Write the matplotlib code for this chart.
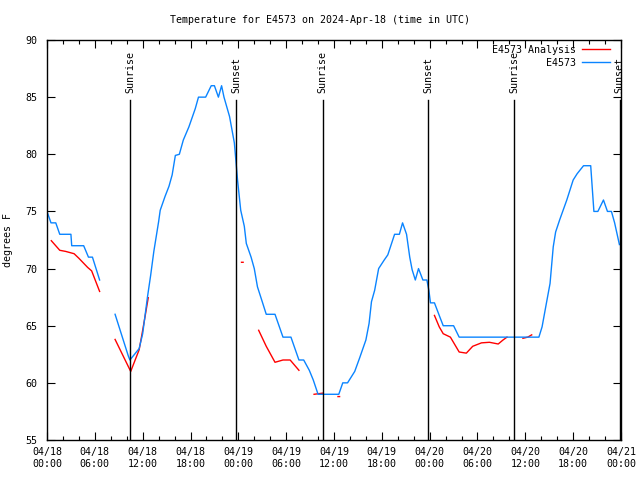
import numpy as np
import matplotlib
matplotlib.use("Agg")
import matplotlib.pyplot as plt

nan = np.nan

# E4573 observations (hours since 2024-04-18 00:00 UTC, degrees F)
blue_h = [0, 0.5, 1.1, 1.6, 3.0, 3.1, 4.6, 5.2, 5.7, 6.6, nan,
          8.54, 10.2, 10.4, 11.56, 12.0, 12.6, 13.0, 13.4, 14.0, 14.2, 14.8, 15.3,
          15.7, 16.1, 16.6, 17.1, 17.8, 18.6, 19.0, 19.9, 20.6, 21.0, 21.5, 21.9,
          22.2, 22.9, 23.5, 23.7, 23.9, 24.3, 24.75, 25.0, 25.6, 26.0, 26.4, 27.0,
          27.5, 28.6, 29.6, 30.6, 31.6, 32.2, 32.9, 33.4, 34.0, 36.6, 37.1, 37.7,
          38.6, 39.2, 40.0, 40.4, 40.7, 41.1, 41.6, 42.3, 42.75, 43.6, 44.2, 44.6,
          45.1, 45.5, 45.8, 46.2, 46.6, 47.15, 47.65, 47.9, 48.1, 48.6, 49.2, 49.7,
          51.0, 51.7, 61.7, 62.1, 62.65, 63.1, 63.5, 63.8, 64.3, 65.2, 66.0, 66.5,
          67.3, 68.2, 68.6, 69.1, 69.8, 70.3, 70.8, 71.2, 71.8]
blue_t = [75, 74, 74, 73, 73, 72, 72, 71, 71, 69, nan,
          66.0, 62.35, 62.0, 63.0, 64.3, 67.5, 69.4, 71.5, 74.1, 75.1, 76.3, 77.2,
          78.2, 79.9, 80.0, 81.25, 82.4, 84.0, 85.0, 85.0, 86, 86, 85, 86,
          85, 83.3, 81, 79.4, 77.75, 75.1, 73.7, 72.2, 71.0, 70.0, 68.4, 67.1,
          66.0, 66, 64, 64, 62, 62, 61.1, 60.25, 59.0, 59.0, 60, 60,
          61, 62.15, 63.75, 65.2, 67.1, 68.1, 70.0, 70.75, 71.2, 73, 73, 74,
          73, 71, 69.9, 69, 70, 69, 69, 68.1, 67, 67, 65.9, 65,
          65, 64, 64, 64.9, 67, 68.7, 71.9, 73.2, 74.25, 76, 77.75, 78.3,
          79, 79, 75, 75, 76, 75, 75, 74, 72.1]

# E4573 Analysis
red_h = [0.54, 1.6, 2.35, 3.4, 4.0, 5.1, 5.6, 6.6, nan,
         8.54, 10.5, 11.56, 11.9, 12.3, 12.7, nan,
         24.4, 24.6, nan,
         26.55, 27.5, 28.6, 29.6, 30.5, 31.6, nan,
         33.5, 34.6, nan,
         36.5, 36.7, nan,
         48.6, 49.2, 49.7, 50.6, 51.7, 52.6, 53.4, 54.5, 55.5, 56.6, 57.2, 57.7, nan,
         59.7, 60.3, 60.8]
red_t = [72.44, 71.6, 71.5, 71.3, 70.9, 70.1, 69.8, 68.0, nan,
         63.8, 61.0, 62.9, 64.2, 65.8, 67.45, nan,
         70.55, 70.55, nan,
         64.6, 63.2, 61.8, 62.0, 62.0, 61.1, nan,
         59.0, 59.1, nan,
         58.8, 58.8, nan,
         65.9, 64.9, 64.3, 64.0, 62.7, 62.6, 63.2, 63.5, 63.55, 63.4, 63.75, 64.0, nan,
         63.9, 64.0, 64.2]

sun_hours = [10.47, 23.71, 34.6, 47.79, 58.6, 71.85]
sun_labels = ["Sunrise", "Sunset", "Sunrise", "Sunset", "Sunrise", "Sunset"]

xtick_pos = list(range(0, 73, 6))
xtick_labels = ["04/18\n00:00", "04/18\n06:00", "04/18\n12:00", "04/18\n18:00",
                "04/19\n00:00", "04/19\n06:00", "04/19\n12:00", "04/19\n18:00",
                "04/20\n00:00", "04/20\n06:00", "04/20\n12:00", "04/20\n18:00",
                "04/21\n00:00"]
ytick_pos = [55, 60, 65, 70, 75, 80, 85, 90]

assert len(blue_h) == len(blue_t) and len(red_h) == len(red_t)

plt.rcParams['font.family'] = ['DejaVu Sans Mono']
FS = 7.2

fig = plt.figure(figsize=(6.4, 4.8), dpi=100)
ax = fig.add_axes([47/640, 1 - 440/480, 574/640, 400/480])

ax.plot(red_h, red_t, color='#ff0000', lw=1, label='E4573 Analysis')
ax.plot(blue_h, blue_t, color='#0a84ff', lw=1, label='E4573')

for h, lab in zip(sun_hours, sun_labels):
    ax.plot([h, h], [0, 0.85], color='black', lw=1, transform=ax.get_xaxis_transform())
    ax.text(h, 0.868, lab, rotation=90, ha='center', va='bottom', fontsize=FS,
            transform=ax.get_xaxis_transform())

ax.set_xlim(0, 72)
ax.set_ylim(55, 90)
ax.set_xticks(xtick_pos)
ax.set_xticklabels(xtick_labels, fontsize=FS, linespacing=1.3)
ax.set_xticks(range(0, 73, 2), minor=True)
ax.set_yticks(ytick_pos)
ax.set_yticklabels([str(v) for v in ytick_pos], fontsize=FS)
ax.tick_params(which='both', direction='in', top=True, right=True, width=0.8)
ax.tick_params(which='major', length=6)
ax.tick_params(which='minor', length=3)
ax.tick_params(axis='x', pad=5)
ax.tick_params(axis='y', pad=7)
for s in ax.spines.values():
    s.set_linewidth(1)

leg = ax.legend(loc='upper right', bbox_to_anchor=(0.988, 0.998), frameon=False,
                markerfirst=False, fontsize=FS, handlelength=2.8, handletextpad=0.6,
                borderaxespad=0.0, labelspacing=0.3)

fig.text(0.5, 1 - 20/480, "Temperature for E4573 on 2024-Apr-18 (time in UTC)",
         ha='center', va='center', fontsize=FS)
fig.text(8/640, 0.5, "degrees F", rotation=90, ha='center', va='center', fontsize=FS)

fig.savefig("out.png", dpi=100)
